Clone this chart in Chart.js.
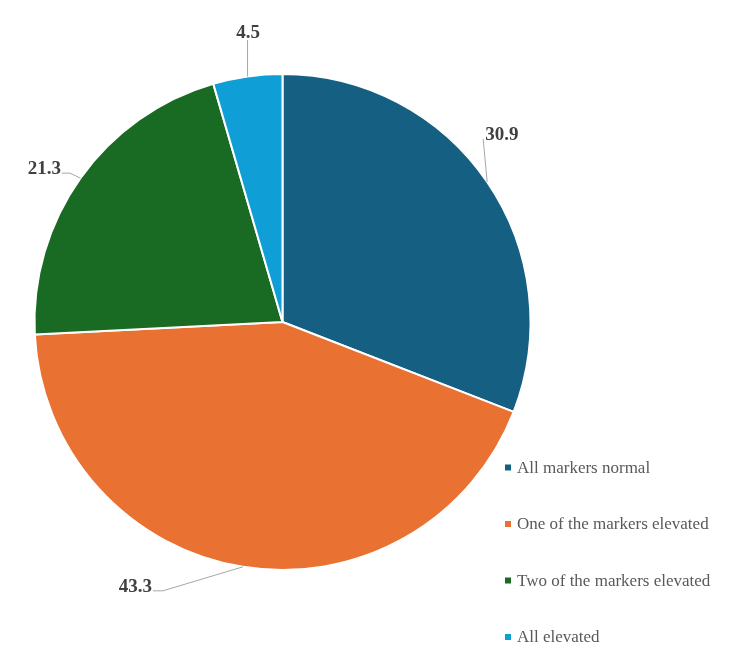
<!DOCTYPE html>
<html>
<head>
<meta charset="utf-8">
<script src="https://cdn.jsdelivr.net/npm/chart.js@4"></script>
<style>
  html, body { margin: 0; padding: 0; background: #ffffff; }
  canvas { display: block; }
</style>
</head>
<body>
<canvas id="c" width="750" height="672"></canvas>
<script>
const categories = ["All markers normal", "One of the markers elevated", "Two of the markers elevated", "All elevated"];
const values = [30.9, 43.3, 21.3, 4.5];
const valueLabels = ["30.9", "43.3", "21.3", "4.5"];
const colors = ["#156082", "#E97132", "#196B24", "#0F9ED5"];

// leader-line placement (style only): points relative to the slice's outer mid-point
const leaders = [
  { pts: [[-4, -43]], align: "left", tdx: 2, tdy: 1 },
  { pts: [[-80, 24], [-90, 24]], align: "right", tdx: -1, tdy: 1 },
  { pts: [[-10.6, -5], [-18.6, -5]], align: "right", tdx: -1, tdy: 1 },
  { pts: [[0, -36.5]], align: "center", tdx: 0.5, tdy: -2 }
];

const labelPlugin = {
  id: "labelPlugin",
  afterDatasetsDraw(chart) {
    const ctx = chart.ctx;
    const meta = chart.getDatasetMeta(0);
    ctx.save();
    meta.data.forEach((arc, i) => {
      const mid = (arc.startAngle + arc.endAngle) / 2;
      const px = arc.x + Math.cos(mid) * arc.outerRadius;
      const py = arc.y + Math.sin(mid) * arc.outerRadius;
      const L = leaders[i];
      ctx.beginPath();
      ctx.strokeStyle = "#A6A6A6";
      ctx.lineWidth = 1;
      ctx.moveTo(px, py);
      let ex = px, ey = py;
      L.pts.forEach(p => { ex = px + p[0]; ey = py + p[1]; ctx.lineTo(ex, ey); });
      ctx.stroke();
      ctx.fillStyle = "#404040";
      ctx.font = "bold 19px 'Liberation Serif', 'Times New Roman', serif";
      ctx.textAlign = L.align;
      ctx.textBaseline = "alphabetic";
      ctx.fillText(valueLabels[i], ex + L.tdx, ey + L.tdy);
    });
    // legend
    const lx = 505, ly0 = 467.5, step = 56.5;
    ctx.font = "17px 'Liberation Serif', 'Times New Roman', serif";
    ctx.textAlign = "left";
    ctx.textBaseline = "middle";
    categories.forEach((c, i) => {
      const y = ly0 + i * step;
      ctx.fillStyle = colors[i];
      ctx.fillRect(lx, y - 3, 6, 6);
      ctx.fillStyle = "#595959";
      ctx.fillText(c, lx + 12, y + 1);
    });
    ctx.restore();
  }
};

new Chart(document.getElementById("c"), {
  type: "pie",
  data: {
    labels: categories,
    datasets: [{
      data: values,
      backgroundColor: colors,
      borderColor: "#ffffff",
      borderWidth: 2
    }]
  },
  options: {
    responsive: false,
    animation: false,
    layout: { padding: { left: 33.5, top: 73, right: 218.5, bottom: 101 } },
    plugins: {
      legend: { display: false },
      tooltip: { enabled: false }
    }
  },
  plugins: [labelPlugin]
});
</script>
</body>
</html>
